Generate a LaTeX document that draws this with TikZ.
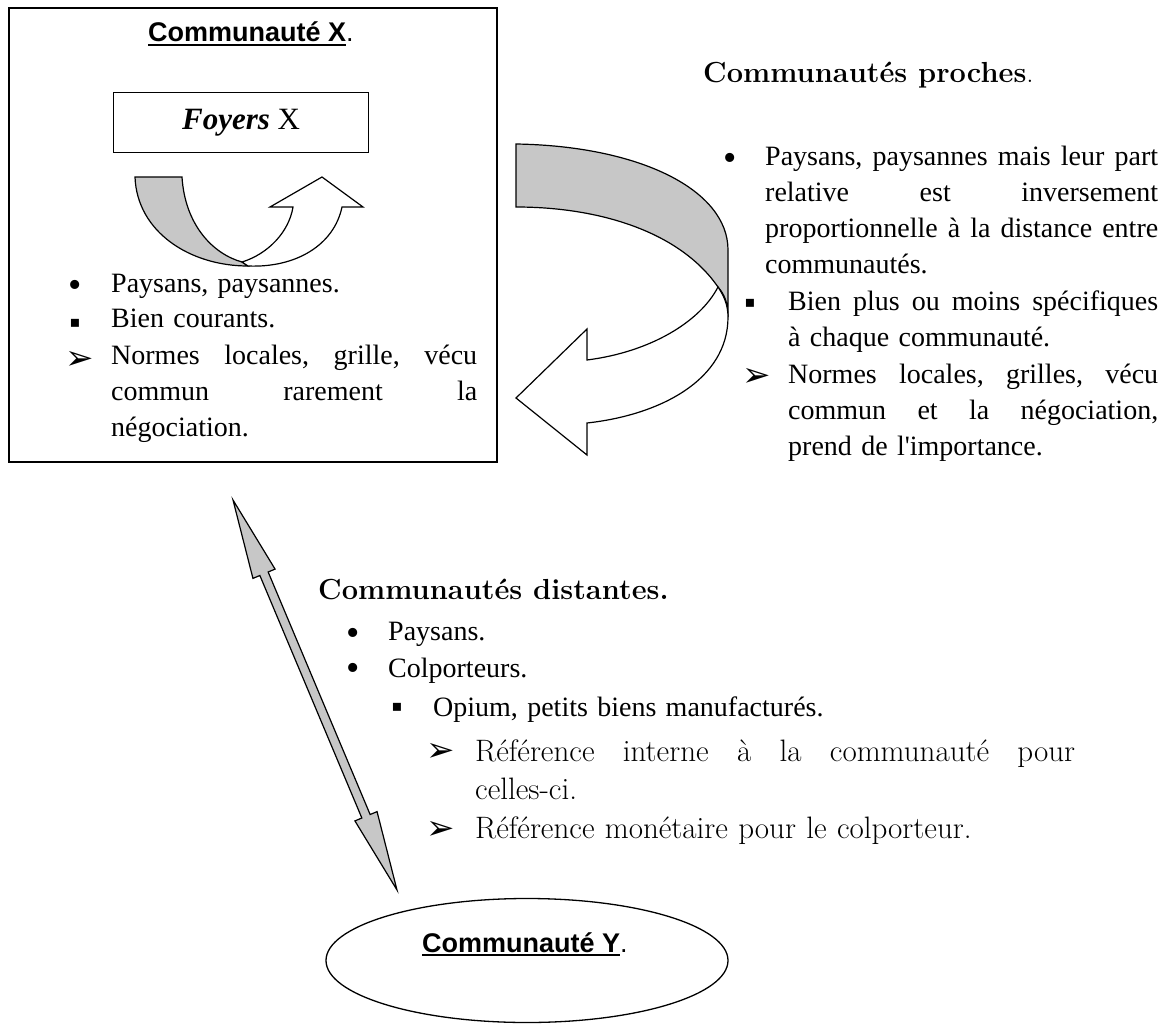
\documentclass[tikz,border=0pt]{standalone}
\usepackage{fontspec}
\newfontfamily\tms{Liberation Serif}
\newfontfamily\arl{Liberation Sans}
\newfontfamily\djv{DejaVu Sans}
\usetikzlibrary{calc,shapes.geometric}
% underline drawn as a thick rule
\newcommand{\ulx}[1]{\setbox0\hbox{#1}\rlap{\rule[-4pt]{\wd0}{2pt}}\box0}
% one justified line
\newcommand{\jl}[2]{\leavevmode\hbox to #1{\frenchspacing\spaceskip=\fontdimen2\font plus 1fil\relax #2}}

\tikzset{
  every node/.style={inner sep=0pt},
  txt/.style={anchor=base west, text width=#1, align=left},
  body/.style={font=\tms\fontsize{28}{36}\selectfont},
  garam/.style={font=\rmfamily\fontsize{31}{38}\selectfont},
  heading/.style={anchor=base west, font=\bfseries\fontsize{29}{33}\selectfont},
  comm/.style={anchor=base west, font=\arl\bfseries\fontsize{27}{30}\selectfont},
  dot/.style={anchor=base, font=\tms\fontsize{38}{40}\selectfont},
  sqr/.style={anchor=base, font=\djv\fontsize{16}{18}\selectfont},
  arr/.style={anchor=base, font=\djv\fontsize{34}{36}\selectfont},
  back/.style={fill=black!22, draw=black, line width=1.2pt},
  front/.style={fill=white, draw=black, line width=1.2pt}
}

\begin{document}
\begin{tikzpicture}[x=1pt,y=-1pt, line join=miter]
\useasboundingbox (0,0) rectangle (1173,1025);

% community X
\node[draw, line width=1.6pt, minimum width=488pt, minimum height=454pt, anchor=north west] (boxX) at (8,7) {};
\node[comm] (titleX) at (148,42) {\ulx{Communauté X}\mdseries.};
\node[draw, line width=1.3pt, minimum width=255pt, minimum height=60pt, anchor=north west,
      font=\tms\fontsize{31}{34}\selectfont] (foyers) at (113,92) {\textbf{\textit{Foyers}} X};

% small turning arrow
\filldraw[back] (135,177) -- (182,177) .. controls (185,225) and (213,254) .. (242,262)
  -- (248,266) .. controls (190,266) and (137,232) .. (135,177) -- cycle;
\filldraw[front] (242,262) .. controls (268,254) and (289,232) .. (293,207) -- (270,207)
  -- (322,177) -- (363,207) -- (342,207) .. controls (334,245) and (296,268) .. (248,266) -- cycle;

\node[dot] (bx1) at (75,297) {•};
\node[txt=366pt, body] (itx1) at (111,292) {Paysans, paysannes.};
\node[sqr] (bx2) at (75,327) {▪};
\node[txt=366pt, body] (itx2) at (111,327) {Bien courants.};
\node[arr] (bx3) at (80,369) {➢};
\node[txt=366pt, body] (itx3) at (111,364) {\jl{366pt}{Normes locales, grille, vécu}\\
  \jl{366pt}{commun rarement la}\\ négociation.};

% nearby communities
\node[heading] (titleP) at (703,83) {Communautés proches\mdseries.};

\filldraw[back] (516,144) .. controls (640,146) and (728,190) .. (728,250) -- (728,317)
  .. controls (728,302) and (724,294) .. (718,287) .. controls (680,232) and (600,207) .. (516,207) -- cycle;
\filldraw[front] (728,317) .. controls (728,380) and (660,415) .. (587,423) -- (587,455)
  -- (516,398) -- (587,329) -- (587,360) .. controls (650,352) and (700,322) .. (718,287)
  .. controls (724,296) and (728,305) .. (728,317) -- cycle;

\node[dot] (bp1) at (730,170) {•};
\node[txt=393pt, body] (itp1) at (765,165) {\jl{393pt}{Paysans, paysannes mais leur part}\\
  \jl{393pt}{relative est inversement}\\
  \jl{393pt}{proportionnelle à la distance entre}\\ communautés.};
\node[sqr] (bp2) at (750,307) {▪};
\node[txt=370pt, body] (itp2) at (788,310) {\jl{370pt}{Bien plus ou moins spécifiques}\\
  à chaque communauté.};
\node[arr] (bp3) at (757,386) {➢};
\node[txt=370pt, body] (itp3) at (788,383) {\jl{370pt}{Normes locales, grilles, vécu}\\
  \jl{370pt}{commun et la négociation,}\\ prend de l\textquotesingle importance.};

% distant communities
\node[heading] (titleD) at (318,599) {Communautés distantes.};
\node[dot] (bd1) at (353,645) {•};
\node[txt=300pt, body] (itd1) at (388,640) {Paysans.};
\node[dot] (bd2) at (353,680) {•};
\node[txt=300pt, body] (itd2) at (388,677) {Colporteurs.};
\node[sqr] (bd3) at (397,711) {▪};
\node[txt=500pt, body] (itd3) at (433,716) {Opium, petits biens manufacturés.};
\node[arr] (bd4) at (441,761) {➢};
\node[txt=600pt, garam] (itd4) at (475,761) {\jl{600pt}{Référence interne à la communauté pour}\\ celles-ci.};
\node[arr] (bd5) at (441,839) {➢};
\node[txt=600pt, garam] (itd5) at (475,838) {Référence monétaire pour le colporteur.};

% community Y
\node[draw, ellipse, line width=1.3pt, minimum width=402pt, minimum height=124pt] (commY) at (527,960.5) {};
\node[comm] (titleY) at (422,952) {\ulx{Communauté Y}\mdseries.};

% double arrow between X and Y
\coordinate (dtop) at (233,500);
\coordinate (dbot) at (397,890);
\coordinate (ht) at ($(dtop)!80pt!(dbot)$);
\coordinate (hb) at ($(dbot)!80pt!(dtop)$);
\filldraw[back] (dtop) -- ($(ht)!12pt!90:(dtop)$) -- ($(ht)!4.5pt!90:(dtop)$)
  -- ($(hb)!4.5pt!-90:(dbot)$) -- ($(hb)!12pt!-90:(dbot)$) -- (dbot)
  -- ($(hb)!12pt!90:(dbot)$) -- ($(hb)!4.5pt!90:(dbot)$)
  -- ($(ht)!4.5pt!-90:(dtop)$) -- ($(ht)!12pt!-90:(dtop)$) -- cycle;
\end{tikzpicture}
\end{document}
